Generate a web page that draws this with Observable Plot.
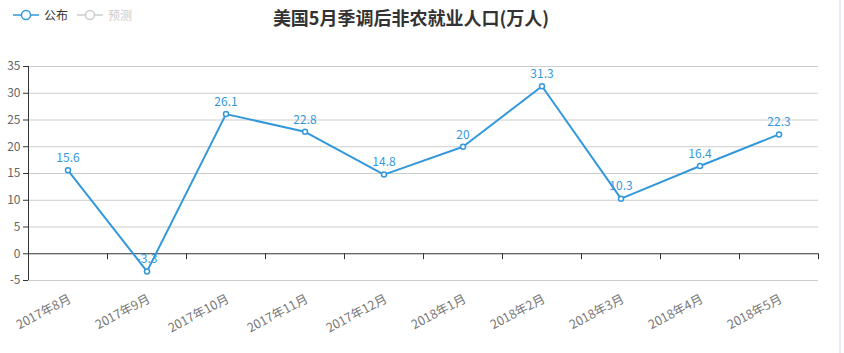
<!DOCTYPE html>
<html>
<head>
<meta charset="utf-8">
<script src="https://cdn.jsdelivr.net/npm/d3@7"></script>
<script src="https://cdn.jsdelivr.net/npm/@observablehq/plot@0.6"></script>
<style>
  html, body { margin: 0; padding: 0; background: #fff; }
  body { font-family: "Noto Sans CJK SC", "Noto Sans", sans-serif; }
  #wrap { position: relative; width: 844px; height: 353px; overflow: hidden; }
  #head { position: relative; height: 40px; }
  #title { position: absolute; left: 0; width: 822px; top: 4px; text-align: center; font-size: 18px; font-weight: bold; color: #333; }
  .leg { position: absolute; top: 6px; font-size: 12px; display: flex; align-items: center; }
  .leg svg { margin-right: 5px; }
  #edge { position: absolute; left: 839px; top: 0; width: 2px; height: 353px; background: #e8eef5; }
</style>
</head>
<body>
<div id="wrap">
  <div id="head">
    <div class="leg" id="leg1" style="left:13px;color:#333"></div>
    <div class="leg" id="leg2" style="left:77px;color:#ccc"></div>
    <div id="title">美国5月季调后非农就业人口(万人)</div>
  </div>
  <div id="chart"></div>
  <div id="edge"></div>
</div>
<script>
const categories = ["2017年8月","2017年9月","2017年10月","2017年11月","2017年12月","2018年1月","2018年2月","2018年3月","2018年4月","2018年5月"];
const values = [15.6, -3.3, 26.1, 22.8, 14.8, 20, 31.3, 10.3, 16.4, 22.3];
const yTicks = [-5, 0, 5, 10, 15, 20, 25, 30, 35];
const seriesNames = ["公布", "预测"];

const blue = "#3398db";
const data = categories.map((c, i) => ({i, c, v: values[i]}));
const boundaries = d3.range(categories.length + 1).map(k => k - 0.5);

function legendIcon(color) {
  return `<svg width="26" height="14"><line x1="0" y1="7" x2="26" y2="7" stroke="${color}" stroke-width="1.5"/><circle cx="13" cy="7" r="4.5" fill="#fff" stroke="${color}" stroke-width="1.5"/></svg>`;
}
document.getElementById("leg1").innerHTML = legendIcon(blue) + seriesNames[0];
document.getElementById("leg2").innerHTML = legendIcon("#ccc") + seriesNames[1];

const tickShape = { draw(context, l) { context.moveTo(0, 0); context.lineTo(0, -l); } };

const chart = Plot.plot({
  width: 844,
  height: 313,
  marginLeft: 28,
  marginRight: 26,
  marginTop: 26,
  marginBottom: 73,
  style: { fontFamily: "'Noto Sans CJK SC', 'Noto Sans', sans-serif", fontSize: "12px", background: "transparent" },
  x: { type: "linear", domain: [-0.5, categories.length - 0.5], axis: null },
  y: { domain: [-5, 35], axis: null },
  marks: [
    Plot.ruleY(yTicks.filter(t => t !== 0), { stroke: "#ccc", strokeWidth: 1 }),
    Plot.ruleX([-0.5], { y1: -5, y2: 35, stroke: "#333", strokeWidth: 1 }),
    Plot.axisY({ ticks: yTicks, tickSize: 5, tickPadding: 3, stroke: "#333", fill: "#666", fontSize: 12, label: null, tickFormat: d => String(d) }),
    Plot.ruleY([0], { stroke: "#333", strokeWidth: 1 }),
    Plot.vector(boundaries, { x: d => d, y: () => 0, length: 5, rotate: 180, anchor: "start", shape: tickShape, stroke: "#333", strokeWidth: 1 }),
    Plot.text(data, { x: "i", frameAnchor: "bottom", text: "c", rotate: -28, textAnchor: "end", dy: 21, dx: 4, fill: "#777", fontSize: 12.5 }),
    Plot.line(data, { x: "i", y: "v", stroke: blue, strokeWidth: 2 }),
    Plot.dot(data, { x: "i", y: "v", r: 2.5, fill: "#fff", stroke: blue, strokeWidth: 1.5 }),
    Plot.text(data, { x: "i", y: "v", text: d => String(d.v), dy: -12, fill: blue, fontSize: 12 })
  ]
});
document.getElementById("chart").appendChild(chart);
</script>
</body>
</html>
